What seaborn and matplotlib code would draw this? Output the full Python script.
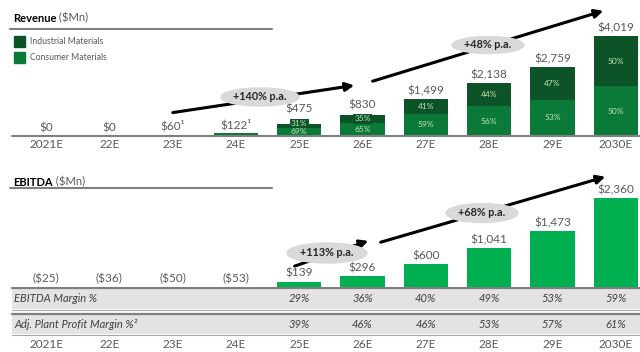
import numpy as np
import pandas as pd
import matplotlib.pyplot as plt
from matplotlib.patches import Ellipse
import seaborn as sns

# data
years = ["2021E", "22E", "23E", "24E", "25E", "26E", "27E", "28E", "29E", "2030E"]
revenue = [0, 0, 60, 122, 475, 830, 1499, 2138, 2759, 4019]
revenue_labels = ["$0", "$0", "$60\u00b9", "$122\u00b9", "$475", "$830", "$1,499", "$2,138", "$2,759", "$4,019"]
industrial_share = [0, 0, 0, 0, 31, 35, 41, 44, 47, 50]
consumer_share = [100, 100, 100, 100, 69, 65, 59, 56, 53, 50]
ebitda = [-25, -36, -50, -53, 139, 296, 600, 1041, 1473, 2360]
ebitda_labels = ["($25)", "($36)", "($50)", "($53)", "$139", "$296", "$600", "$1,041", "$1,473", "$2,360"]
ebitda_margin = ["", "", "", "", "29%", "36%", "40%", "49%", "53%", "59%"]
plant_margin = ["", "", "", "", "39%", "46%", "46%", "53%", "57%", "61%"]

sns.set_style("white")
plt.rcParams["font.family"] = ["Lato", "DejaVu Sans"]

IND = "#0c5428"
CON = "#0b7a38"
EBI = "#00b050"
GREY = "#595959"
LINE = "#7f7f7f"
FS = 8.5

W, H = 640, 352
fig = plt.figure(figsize=(6.4, 3.52), dpi=100)

def fx(px):
    return px / W

def fy(py):
    return 1 - py / H

unit = 63.3
x0 = -46 / unit
x1 = x0 + W / unit

df = pd.DataFrame({"year": years, "revenue": revenue, "ebitda": ebitda,
                   "ind": industrial_share, "con": consumer_share})
df["con_val"] = df["revenue"] * df["con"] / 100
df["pos_ebitda"] = df["ebitda"].clip(lower=0)

# ---------- Revenue ----------
ax = fig.add_axes([0, fy(136), 1, 131 / H])
sns.barplot(data=df, x="year", y="revenue", color=IND, width=0.7, ax=ax, saturation=1, linewidth=0)
sns.barplot(data=df, x="year", y="con_val", color=CON, width=0.7, ax=ax, saturation=1, linewidth=0)
ax.set_xlim(x0, x1)
ry = 4019 / 100  # value per pixel
ax.set_ylim(0, 131 * ry)
ax.axis("off")
ax.axhline(0, xmin=fx(12), xmax=1, color=LINE, lw=1.5, clip_on=False)

for i, (v, lab) in enumerate(zip(revenue, revenue_labels)):
    top = v
    if industrial_share[i] > 0:
        cv = df["con_val"][i]
        cy = max(cv / 2, 4 * ry)
        iy = max(cv + (v - cv) / 2, cy + 8.3 * ry)
        top = max(v, iy + 6 * ry)
        ax.text(i, cy, f"{consumer_share[i]}%", ha="center", va="center",
                fontsize=6, color="#c5e0b4")
        ax.text(i, iy, f"{industrial_share[i]}%", ha="center", va="center",
                fontsize=6, color="#c5e0b4",
                bbox=dict(boxstyle="square,pad=0.15", fc=IND, lw=0))
    ax.annotate(lab, (i, top), xytext=(0, 2), textcoords="offset points",
                ha="center", va="bottom", fontsize=FS, color=GREY)
    ax.annotate(years[i], (i, 0), xytext=(0, -2.5), textcoords="offset points",
                ha="center", va="top", fontsize=FS, color=GREY, annotation_clip=False)

def rpt(px, py):
    return ((px - 46) / unit, (136 - py) * ry)

for (a, b) in [((170, 113), (357, 85)), ((370, 82), (606, 10))]:
    ax.annotate("", xy=rpt(*b), xytext=rpt(*a),
                arrowprops=dict(arrowstyle="-|>,head_length=0.5,head_width=0.25",
                                color="black", lw=2.2), annotation_clip=False)
for (c, w, h, t) in [((260, 97), 78, 18, "+140% p.a."), ((488, 45), 72, 17, "+48% p.a.")]:
    ax.add_patch(Ellipse(rpt(*c), w / unit, h * ry, color="#d9d9d9", zorder=5, clip_on=False))
    ax.text(*rpt(*c), t, ha="center", va="center", fontsize=7.8, weight="bold", zorder=6)

# legend
for k, (col, lab) in enumerate([(IND, "Industrial Materials"), (CON, "Consumer Materials")]):
    fig.patches.append(plt.Rectangle((fx(14), fy(47 + 16 * k)), fx(11), 11 / H,
                                     color=col, transform=fig.transFigure))
    fig.text(fx(30), fy(42 + 16 * k), lab, fontsize=6.2, color=GREY, va="center")

# titles
for ty, ly, name in [(18, 29, "Revenue"), (182, 188, "EBITDA")]:
    t = fig.text(fx(13), fy(ty), name, fontsize=8, weight="bold", va="center", color="black")
    fig.add_artist(plt.Line2D([fx(10), fx(272)], [fy(ly), fy(ly)], color=LINE, lw=1.5))
    ax.annotate(" ($Mn)", xy=(1, 0.5), xycoords=t, va="center", fontsize=8, color=GREY,
                annotation_clip=False)

# ---------- EBITDA ----------
bx = fig.add_axes([0, fy(287), 1, 122 / H])
sns.barplot(data=df, x="year", y="pos_ebitda", color=EBI, width=0.7, ax=bx, saturation=1, linewidth=0)
bx.set_xlim(x0, x1)
ey = 2360 / 89
bx.set_ylim(0, 122 * ey)
bx.axis("off")

for i, (v, lab) in enumerate(zip(ebitda, ebitda_labels)):
    bx.annotate(lab, (i, max(v, 0)), xytext=(0, 2), textcoords="offset points",
                ha="center", va="bottom", fontsize=FS, color=GREY)

def ept(px, py):
    return ((px - 46) / unit, (287 - py) * ey)

for (a, b) in [((292, 267), (371, 240)), ((378, 243), (608, 176))]:
    bx.annotate("", xy=ept(*b), xytext=ept(*a),
                arrowprops=dict(arrowstyle="-|>,head_length=0.5,head_width=0.25",
                                color="black", lw=2.2), annotation_clip=False)
for (c, w, h, t) in [((327, 253), 80, 20, "+113% p.a."), ((482, 213), 72, 19, "+68% p.a.")]:
    bx.add_patch(Ellipse(ept(*c), w / unit, h * ey, color="#d9d9d9", zorder=5, clip_on=False))
    bx.text(*ept(*c), t, ha="center", va="center", fontsize=7.8, weight="bold", zorder=6)

# ---------- table ----------
tx = fig.add_axes([0, fy(352), 1, 65 / H])
tx.set_xlim(x0, x1)
tx.set_ylim(352, 287)
tx.axis("off")
for top, bot, name, vals in [(288, 309, "EBITDA Margin %", ebitda_margin),
                             (314, 334, "Adj. Plant Profit Margin %\u00b2", plant_margin)]:
    tx.axhspan(top, bot, xmin=fx(12), color="#e3e3e3", lw=0)
    tx.axhline(top, xmin=fx(12), color=LINE, lw=1.6)
    tx.axhline(bot + 1, xmin=fx(12), color="#a6a6a6", lw=0.8)
    mid = (top + bot) / 2
    tx.text((14 - 46) / unit, mid, name, style="italic", fontsize=8, color="#404040", va="center")
    for i, s in enumerate(vals):
        tx.text(i, mid, s, style="italic", fontsize=8, color="#404040", va="center", ha="center")
for i, y in enumerate(years):
    tx.text(i, 345, y, fontsize=FS, color=GREY, ha="center", va="center")

fig.savefig("out.png", dpi=100)
